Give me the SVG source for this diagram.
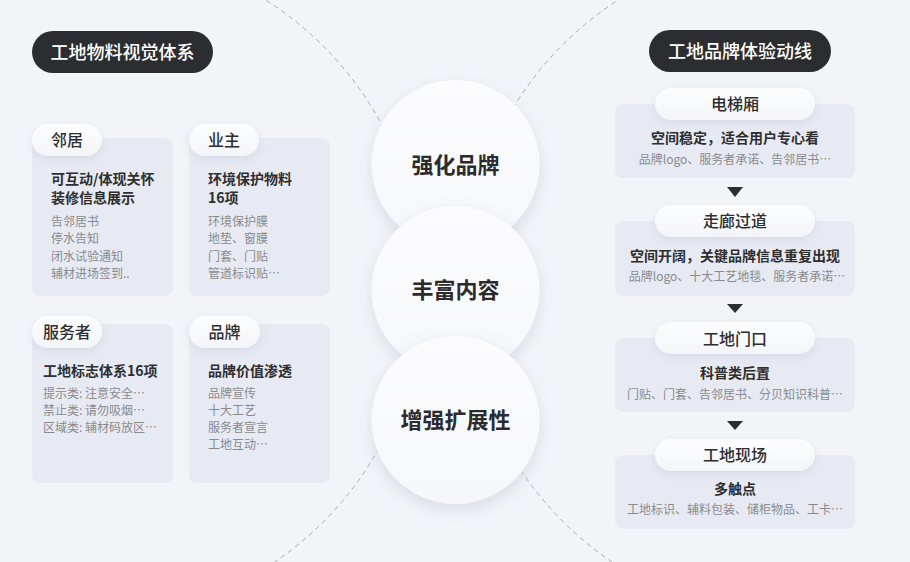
<svg xmlns="http://www.w3.org/2000/svg" width="910" height="562" viewBox="0 0 910 562">
<defs>
<filter id="sh" x="-30%" y="-30%" width="160%" height="160%">
<feDropShadow dx="0" dy="6" stdDeviation="8" flood-color="#b9c0d6" flood-opacity="0.45"/>
</filter>
<filter id="tsh" x="-30%" y="-50%" width="160%" height="200%">
<feDropShadow dx="0" dy="3" stdDeviation="4" flood-color="#c3c8da" flood-opacity="0.45"/>
</filter>
<linearGradient id="cg" x1="0" y1="0" x2="0" y2="1">
<stop offset="0" stop-color="#fcfcfe"/>
<stop offset="1" stop-color="#f6f7fa"/>
</linearGradient>
<linearGradient id="tg" x1="0" y1="0" x2="0" y2="1">
<stop offset="0" stop-color="#fdfdfe"/>
<stop offset="1" stop-color="#f4f5f9"/>
</linearGradient>
</defs>
<style>
text{font-family:"Noto Sans CJK SC","Noto Sans",sans-serif;}
.title{font-size:18px;fill:#ffffff;font-weight:500;text-anchor:middle;}
.pill{fill:#2c2d30;}
.body{fill:#e7eaf2;}
.tab{fill:url(#tg);filter:url(#tsh);}
.tabt{font-size:16px;fill:#2e2e30;font-weight:500;text-anchor:middle;}
.b{font-size:14px;fill:#2e2e30;font-weight:700;}
.g{font-size:12px;fill:#8a8a8e;}
.c{text-anchor:middle;}
.circ{fill:url(#cg);filter:url(#sh);}
.ct{font-size:22px;fill:#2b2b2d;font-weight:700;text-anchor:middle;}
.dash{fill:none;stroke:#a9abb2;stroke-width:1;stroke-dasharray:5 4;}
.arr{fill:#2c2d30;}
</style>
<rect x="0" y="0" width="910" height="562" fill="#f3f4f8"/>
<g id="decor">
<circle class="dash" cx="86" cy="284" r="336"/>
<circle class="dash" cx="801" cy="283" r="337"/>
</g>
<g id="title-left">
<rect class="pill" x="32" y="31" width="181" height="42" rx="21"/>
<text class="title" x="122.5" y="58.5">工地物料视觉体系</text>
</g>
<g id="title-right">
<rect class="pill" x="649" y="30" width="182" height="42" rx="21"/>
<text class="title" x="740" y="57.5">工地品牌体验动线</text>
</g>
<g id="card-neighbor">
<rect class="body" x="32" y="138" width="141" height="158" rx="8"/>
<rect class="tab" x="32" y="124" width="70" height="32" rx="16"/>
<text class="tabt" x="67" y="146">邻居</text>
<text class="b" x="51" y="184">可互动/体现关怀</text>
<text class="b" x="51" y="203">装修信息展示</text>
<text class="g" x="51" y="225.5">告邻居书</text>
<text class="g" x="51" y="242.5">停水告知</text>
<text class="g" x="51" y="260.5">闭水试验通知</text>
<text class="g" x="51" y="277.5">辅材进场签到..</text>
</g>
<g id="card-owner">
<rect class="body" x="189" y="138" width="141" height="158" rx="8"/>
<rect class="tab" x="189" y="124" width="70" height="32" rx="16"/>
<text class="tabt" x="224" y="146">业主</text>
<text class="b" x="208" y="184">环境保护物料</text>
<text class="b" x="208" y="203">16项</text>
<text class="g" x="208" y="225.5">环境保护膜</text>
<text class="g" x="208" y="242.5">地垫、窗膜</text>
<text class="g" x="208" y="260.5">门套、门贴</text>
<text class="g" x="208" y="277.5">管道标识贴…</text>
</g>
<g id="card-servicer">
<rect class="body" x="32" y="324" width="141" height="159" rx="8"/>
<rect class="tab" x="32" y="316" width="70" height="32" rx="16"/>
<text class="tabt" x="67" y="338">服务者</text>
<text class="b" x="43" y="376">工地标志体系16项</text>
<text class="g" x="43" y="397.5">提示类: 注意安全…</text>
<text class="g" x="43" y="414.5">禁止类: 请勿吸烟…</text>
<text class="g" x="43" y="431.5">区域类: 辅材码放区…</text>
</g>
<g id="card-brand">
<rect class="body" x="189" y="324" width="141" height="159" rx="8"/>
<rect class="tab" x="189" y="316" width="71" height="32" rx="16"/>
<text class="tabt" x="224.5" y="338">品牌</text>
<text class="b" x="208" y="376">品牌价值渗透</text>
<text class="g" x="208" y="397.5">品牌宣传</text>
<text class="g" x="208" y="414.5">十大工艺</text>
<text class="g" x="208" y="431.5">服务者宣言</text>
<text class="g" x="208" y="448.5">工地互动…</text>
</g>
<g id="circle-brand">
<circle class="circ" cx="455.5" cy="164" r="84"/>
<text class="ct" x="455.5" y="173">强化品牌</text>
</g>
<g id="circle-content">
<circle class="circ" cx="455.5" cy="290" r="84"/>
<text class="ct" x="455.5" y="298">丰富内容</text>
</g>
<g id="circle-extend">
<circle class="circ" cx="455.5" cy="420" r="84"/>
<text class="ct" x="455.5" y="428">增强扩展性</text>
</g>
<g id="step-elevator">
<rect class="body" x="615" y="104" width="240" height="74" rx="8"/>
<rect class="tab" x="655" y="88" width="160" height="32" rx="16"/>
<text class="tabt" x="735" y="110">电梯厢</text>
<text class="b c" x="735" y="143">空间稳定，适合用户专心看</text>
<text class="g c" x="735" y="163.5">品牌logo、服务者承诺、告邻居书…</text>
</g>
<g id="step-corridor">
<rect class="body" x="615" y="221" width="240" height="75" rx="8"/>
<rect class="tab" x="655" y="205" width="160" height="32" rx="16"/>
<text class="tabt" x="735" y="227">走廊过道</text>
<text class="b c" x="735" y="261">空间开阔，关键品牌信息重复出现</text>
<text class="g c" x="737" y="280.5">品牌logo、十大工艺地毯、服务者承诺…</text>
</g>
<g id="step-door">
<rect class="body" x="615" y="338" width="240" height="74" rx="8"/>
<rect class="tab" x="655" y="322" width="160" height="32" rx="16"/>
<text class="tabt" x="735" y="345">工地门口</text>
<text class="b c" x="735" y="378">科普类后置</text>
<text class="g c" x="735" y="398.5">门贴、门套、告邻居书、分贝知识科普…</text>
</g>
<g id="step-site">
<rect class="body" x="615" y="455" width="240" height="74" rx="8"/>
<rect class="tab" x="655" y="439" width="160" height="32" rx="16"/>
<text class="tabt" x="735" y="461">工地现场</text>
<text class="b c" x="735" y="494">多触点</text>
<text class="g c" x="735" y="513.5">工地标识、辅料包装、储柜物品、工卡…</text>
</g>
<g id="connectors">
<polygon class="arr" points="727,187 743,187 735,197"/>
<polygon class="arr" points="727,304 743,304 735,313"/>
<polygon class="arr" points="727,421 743,421 735,430"/>
</g>
</svg>
